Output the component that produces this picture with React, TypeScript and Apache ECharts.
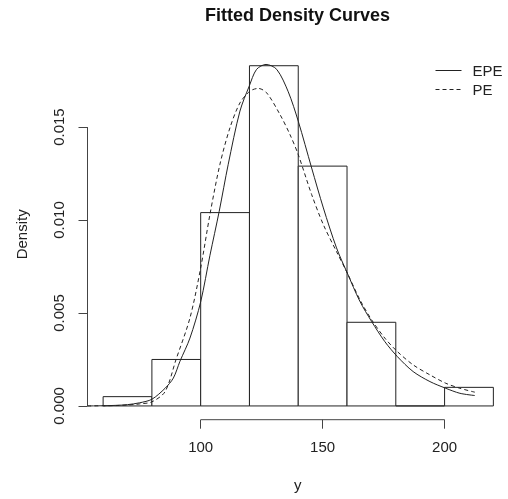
import React, { useEffect, useRef } from "react";
import * as echarts from "echarts";

const binEdges = [60, 80, 100, 120, 140, 160, 180, 200, 220];
const binDensity = [0.0005, 0.0025, 0.0104, 0.0183, 0.0129, 0.0045, 0, 0.001];

const epeX = [53.6, 60, 65, 70, 75, 80, 85.4, 88.8, 91.5, 95.6, 100, 103.8, 107.6, 111.3, 116.1, 119.9, 122.9, 126.8, 131.2, 135.9, 140, 145.5, 150.3, 155.7, 160.1, 165.3, 170.1, 175.5, 180.6, 187.1, 194, 200.5, 206.3, 212.4];
const epeY = [0, 0.00001, 0.00003, 0.00007, 0.00017, 0.00036, 0.00095, 0.0015, 0.0024, 0.00365, 0.0056, 0.0081, 0.01047, 0.013, 0.01586, 0.0172, 0.0181, 0.01837, 0.0181, 0.0169, 0.01532, 0.0128, 0.01065, 0.0085, 0.00715, 0.00562, 0.00454, 0.00346, 0.00266, 0.00185, 0.00131, 0.00095, 0.00068, 0.00056];

const peX = [53.6, 60, 65, 70, 75, 80, 85.4, 89.9, 95.6, 100, 103.8, 107.9, 112, 116.1, 120.2, 123.6, 127, 132.5, 136.6, 140, 145.5, 150.3, 155.7, 160.1, 165.3, 170.1, 175.5, 180.6, 187.1, 194, 200.5, 206.3, 212.4];
const peY = [0, 0.00001, 0.00002, 0.00005, 0.00011, 0.00022, 0.00077, 0.0025, 0.00473, 0.00742, 0.0103, 0.013, 0.01496, 0.0163, 0.01693, 0.01708, 0.01685, 0.01568, 0.0146, 0.01352, 0.01137, 0.00975, 0.0083, 0.00715, 0.00571, 0.00463, 0.00365, 0.00293, 0.00221, 0.00167, 0.00122, 0.00095, 0.00074];

const xTicks = [100, 150, 200];
const yTicks = [0, 0.005, 0.01, 0.015];

const X_MIN = 53.6;
const X_MAX = 226;
const Y_MIN = -0.00074;
const Y_MAX = 0.0192;

const FONT = "'Liberation Sans', Arial, sans-serif";
const INK = "#222";

export default function App() {
  const ref = useRef<HTMLDivElement>(null);
  useEffect(() => {
    if (!ref.current) return;
    const chart = echarts.init(ref.current, undefined, { renderer: "svg" });
    const histData = binDensity.map((d, i) => [binEdges[i], binEdges[i + 1], d]);
    chart.setOption({
      animation: false,
      title: {
        text: "Fitted Density Curves",
        left: 297.5,
        top: 6,
        padding: 0,
        textAlign: "center",
        textStyle: { fontFamily: FONT, fontSize: 18, fontWeight: "bold", color: "#111" },
      },
      legend: {
        orient: "vertical",
        left: 435,
        top: 63,
        padding: 0,
        itemWidth: 26,
        itemHeight: 14,
        itemGap: 4,
        data: ["EPE", "PE"],
        itemStyle: { opacity: 0 },
        lineStyle: { width: 1 },
        textStyle: { fontFamily: FONT, fontSize: 15, color: INK, padding: [0, 0, 0, 6] },
      },
      grid: { left: 87.5, top: 49, width: 420.7, height: 370.7 },
      xAxis: {
        type: "value",
        min: X_MIN,
        max: X_MAX,
        axisLine: { show: false, onZero: false },
        splitLine: { show: false },
        axisTick: { show: true, customValues: xTicks, length: 9, lineStyle: { color: "#444" } },
        axisLabel: { customValues: xTicks, margin: 19, fontFamily: FONT, fontSize: 15, color: INK },
        name: "y",
        nameLocation: "middle",
        nameGap: 57,
        nameTextStyle: { fontFamily: FONT, fontSize: 15, color: INK },
      },
      yAxis: {
        type: "value",
        min: Y_MIN,
        max: Y_MAX,
        axisLine: { show: false, onZero: false },
        splitLine: { show: false },
        axisTick: { show: true, customValues: yTicks, length: 9, lineStyle: { color: "#444" } },
        axisLabel: {
          customValues: yTicks,
          rotate: 90,
          margin: 22,
          formatter: (v: number) => v.toFixed(3),
          fontFamily: FONT,
          fontSize: 15,
          color: INK,
        },
        name: "Density",
        nameLocation: "middle",
        nameRotate: 90,
        nameGap: 59,
        nameTextStyle: { fontFamily: FONT, fontSize: 15, color: INK },
      },
      series: [
        {
          type: "custom",
          name: "hist",
          data: histData,
          encode: { x: [0, 1], y: 2 },
          renderItem: (params: any, api: any) => {
            const x0 = api.value(0);
            const x1 = api.value(1);
            const d = api.value(2);
            const p0 = api.coord([x0, d]);
            const p1 = api.coord([x1, 0]);
            return {
              type: "rect",
              shape: { x: p0[0], y: p0[1], width: p1[0] - p0[0], height: p1[1] - p0[1] },
              style: { fill: "#fff", stroke: INK, lineWidth: 1 },
            };
          },
          z: 1,
        },
        {
          type: "line",
          name: "EPE",
          data: epeX.map((x, i) => [x, epeY[i]]),
          smooth: 0.3,
          symbol: "none",
          lineStyle: { color: INK, width: 1, type: "solid" },
          itemStyle: { color: INK },
          z: 3,
        },
        {
          type: "line",
          name: "PE",
          data: peX.map((x, i) => [x, peY[i]]),
          smooth: 0.3,
          symbol: "none",
          lineStyle: { color: INK, width: 1, type: [4, 3] },
          itemStyle: { color: INK },
          z: 3,
        },
      ],
    });
    const a = chart.convertToPixel({ gridIndex: 0 }, [xTicks[0], Y_MIN]) as number[];
    const b = chart.convertToPixel({ gridIndex: 0 }, [xTicks[xTicks.length - 1], Y_MIN]) as number[];
    const c = chart.convertToPixel({ gridIndex: 0 }, [X_MIN, yTicks[0]]) as number[];
    const d = chart.convertToPixel({ gridIndex: 0 }, [X_MIN, yTicks[yTicks.length - 1]]) as number[];
    chart.setOption({
      graphic: [
        {
          type: "line",
          shape: { x1: a[0], y1: a[1], x2: b[0], y2: b[1] },
          style: { stroke: "#444", lineWidth: 1 },
        },
        {
          type: "line",
          shape: { x1: c[0], y1: c[1], x2: d[0], y2: d[1] },
          style: { stroke: "#444", lineWidth: 1 },
        },
      ],
    });
    return () => chart.dispose();
  }, []);
  return (
    <div
      ref={ref}
      style={{ position: "fixed", left: 0, top: 0, width: 508, height: 499 }}
    />
  );
}
